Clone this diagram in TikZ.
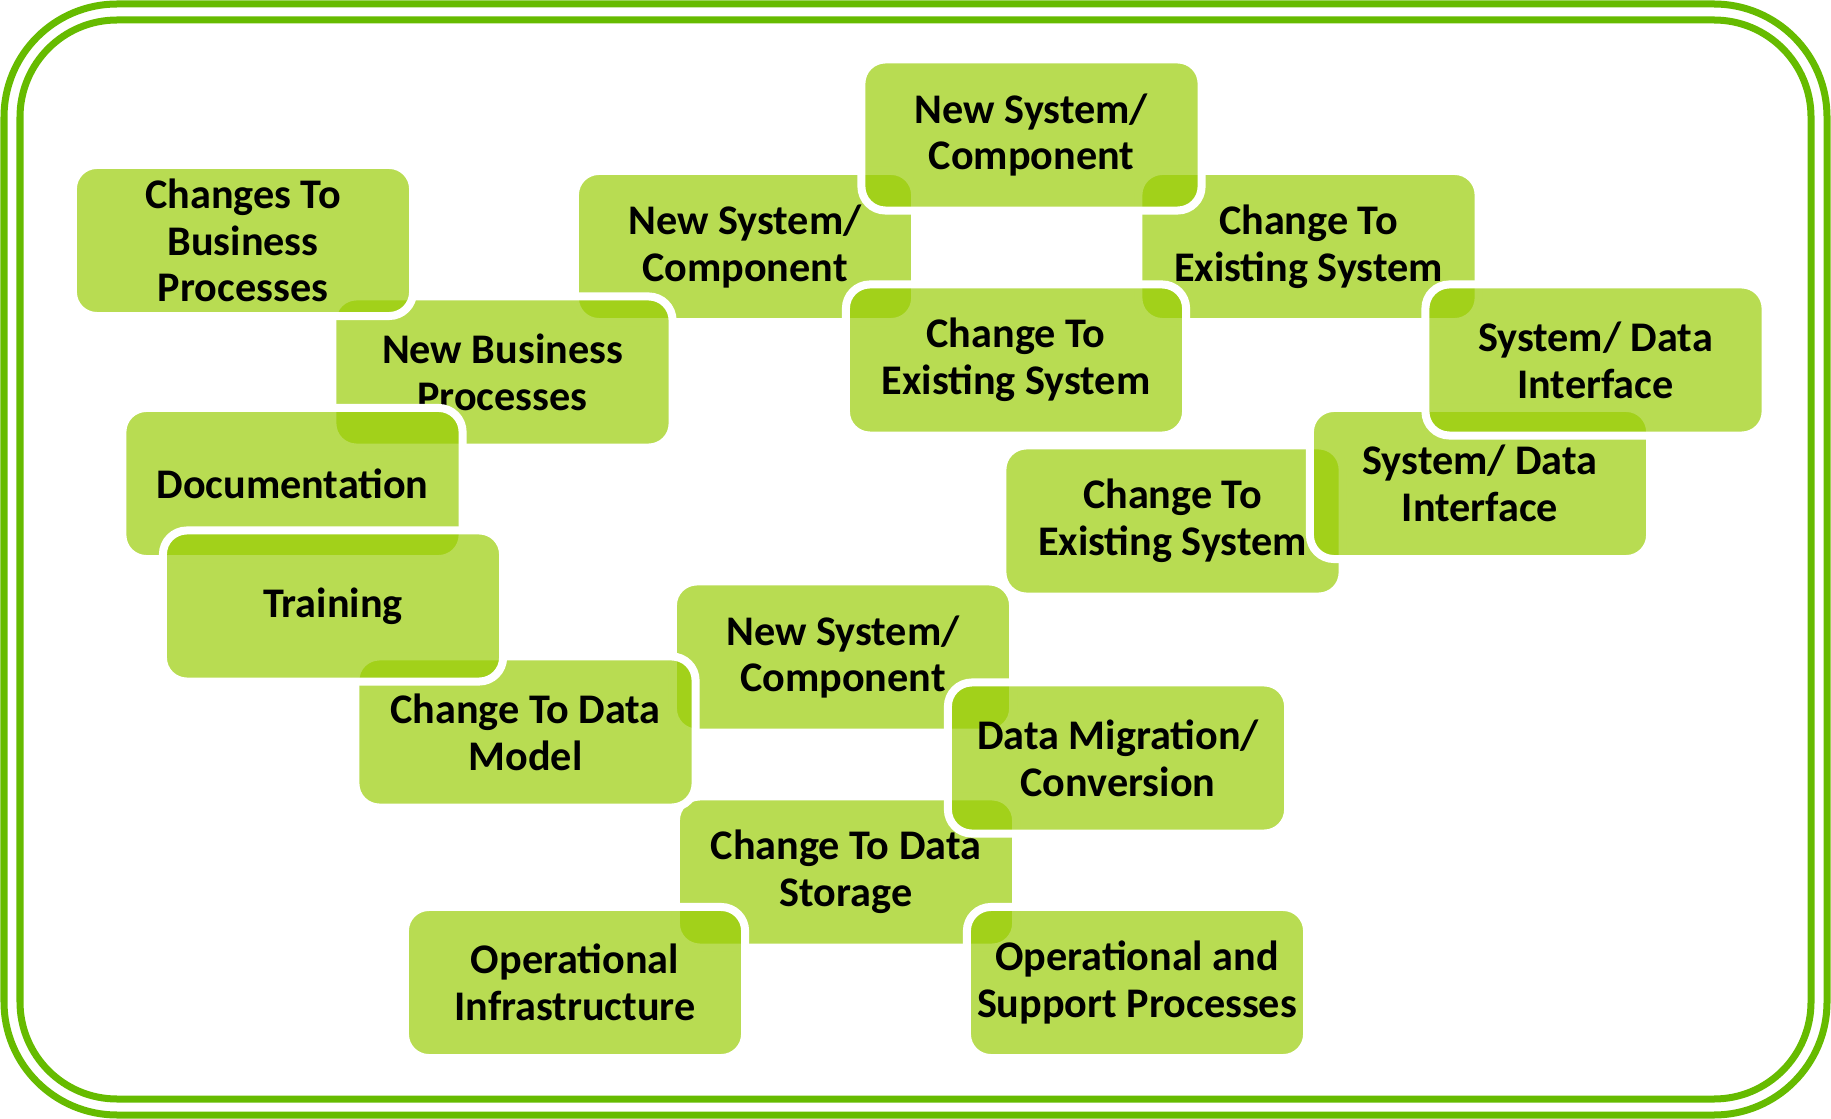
\documentclass[tikz,border=0pt]{standalone}
\usepackage{fontspec}
\setmainfont{Carlito}
\usepackage{tikz}
\definecolor{framegreen}{RGB}{102,187,0}
\definecolor{boxgreen}{RGB}{151,204,0}

\begin{document}
\begin{tikzpicture}[x=0.01cm, y=-0.01cm,
    frame/.style={draw=framegreen, line width=0.07cm},
    block/.style={draw=white, line width=0.08cm, fill=boxgreen,
      fill opacity=0.68, text opacity=1, rounded corners=0.24cm,
      minimum width=3.40cm, minimum height=1.51cm, inner sep=0pt,
      align=center, font=\fontsize{12}{13.3}\selectfont\bfseries}]
  \useasboundingbox (0,0) rectangle (1831,1119);
  % double frame
  \draw[frame, rounded corners=1.13cm] (4,4) rectangle (1827,1115);
  \draw[frame, rounded corners=0.97cm] (20,20) rectangle (1811,1099);
  % blocks, from the back to the front
  \node[block] (sysa) at (745,246.5) {New System/\\Component};
  \node[block] (exista) at (1308.5,246.5) {Change To\\Existing System};
  \node[block] (existc) at (1172.5,521) {Change To\\Existing System};
  \node[block] (sysc) at (843,657) {New System/\\Component};
  \node[block] (storage) at (846,872) {Change To Data\\Storage};
  \node[block] (newbus) at (502.5,372) {New Business\\Processes};
  \node[block] (ifaceb) at (1480,483.5) {System/ Data\\Interface};
  \node[block] (model) at (525.5,732) {Change To Data\\Model};
  \node[block] (changebus) at (243,240.5) {Changes To\\Business\\Processes};
  \node[block] (docu) at (292.5,483.5) {Documentation};
  \node[block] (sysb) at (1031.5,135) {New System/\\Component};
  \node[block] (existb) at (1016,360) {Change To\\Existing System};
  \node[block] (ifacea) at (1595.5,360) {System/ Data\\Interface};
  \node[block] (migration) at (1118,758) {Data Migration/\\Conversion};
  \node[block] (infra) at (575,982.5) {Operational\\Infrastructure};
  \node[block] (support) at (1137,982.5) {Operational and\\Support Processes};
  \node[block] (training) at (333,606) {Training};
\end{tikzpicture}
\end{document}
